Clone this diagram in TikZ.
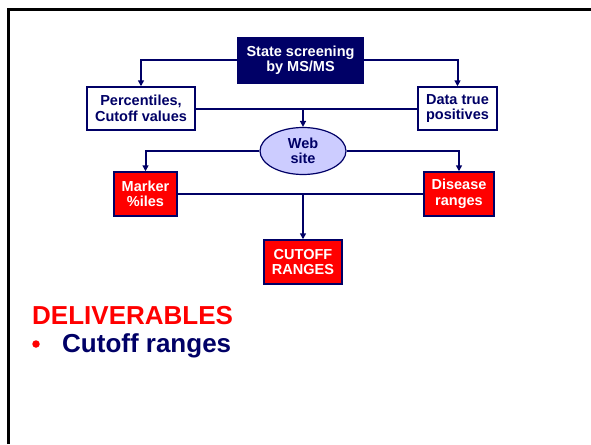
\documentclass[tikz,border=0pt]{standalone}
\usepackage{fontspec}
\setmainfont{Liberation Sans}
\usetikzlibrary{arrows.meta,shapes.geometric}
\definecolor{navy}{RGB}{0,0,102}
\definecolor{lav}{RGB}{204,204,255}
\definecolor{hot}{RGB}{255,0,0}
\tikzset{
  boxtext/.style={font=\bfseries\fontsize{14.5}{15.5}\selectfont, align=center, inner sep=0pt},
  navybox/.style={boxtext, rectangle, draw=navy, fill=navy, text=white, line width=1.5pt},
  whitebox/.style={boxtext, rectangle, draw=navy, fill=white, text=navy, line width=1.5pt},
  redbox/.style={boxtext, rectangle, draw=navy, fill=hot, text=white, line width=1.5pt},
  webnode/.style={boxtext, ellipse, draw=navy, fill=lav, text=navy, line width=1.2pt},
  link/.style={draw=navy, line width=2pt},
  arrowlink/.style={link, -{Triangle[length=6pt,width=6pt]}}
}
\begin{document}
\begin{tikzpicture}[x=1pt,y=-1pt]
\useasboundingbox (0,0) rectangle (591,444);
% slide frame
\draw[line width=3pt] (8,444) -- (8,10) -- (591,10);

% flowchart nodes
\node[navybox, minimum width=125pt, minimum height=45pt] (state) at (300.5,60.5) {State screening\\by MS/MS};
\node[whitebox, minimum width=108pt, minimum height=43pt] (perc) at (141,108.5) {Percentiles,\\Cutoff values};
\node[whitebox, minimum width=79pt, minimum height=43pt] (data) at (457.5,108.5) {Data true\\positives};
\node[webnode, minimum width=86pt, minimum height=47pt] (web) at (303,151) {Web\\site};
\node[redbox, minimum width=63pt, minimum height=44pt] (marker) at (145.5,194) {Marker\\\%iles};
\node[redbox, minimum width=70pt, minimum height=44pt] (disease) at (459,194) {Disease\\ranges};
\node[redbox, minimum width=78pt, minimum height=44pt] (cut) at (303,262) {CUTOFF\\RANGES};

% connectors
\draw[arrowlink] (state.west) -| (perc.north);
\draw[arrowlink] (state.east) -| (data.north);
\draw[link] (perc.east) -- (data.west);
\coordinate (j1) at (web.north |- perc.east);
\draw[arrowlink] (j1) -- (web.north);
\draw[arrowlink] (web.west) -| (marker.north);
\draw[arrowlink] (web.east) -| (disease.north);
\draw[link] (marker.east) -- (disease.west);
\coordinate (j2) at (cut.north |- marker.east);
\draw[arrowlink] (j2) -- (cut.north);

% deliverables text
\node[anchor=base west, inner sep=0pt, text=hot, font=\bfseries\fontsize{26}{30}\selectfont] (deliv) at (32,324) {DELIVERABLES};
\node[circle, fill=hot, inner sep=0pt, minimum size=7.5pt] (dot) at (36,344) {};
\node[anchor=base west, inner sep=0pt, text=navy, font=\bfseries\fontsize{26}{30}\selectfont] (item) at (62,352) {Cutoff ranges};
\end{tikzpicture}
\end{document}
